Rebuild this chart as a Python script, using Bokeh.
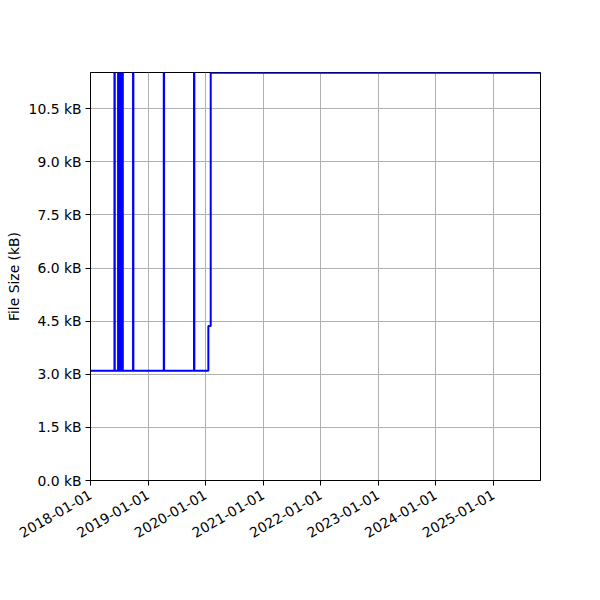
import math
from datetime import datetime
from bokeh.plotting import figure
from bokeh.models import Range1d, FixedTicker, PrintfTickFormatter, DatetimeTickFormatter
from bokeh.embed import file_html
from bokeh.resources import INLINE

# ---- data ----
change_dates = [
    "2018-01-01", "2018-06-02", "2018-06-04", "2018-06-25", "2018-06-27",
    "2018-06-29", "2018-07-01", "2018-07-03", "2018-07-05", "2018-07-07",
    "2018-07-09", "2018-07-11", "2018-07-13", "2018-07-15", "2018-07-17",
    "2018-07-19", "2018-07-21", "2018-07-23", "2018-07-25", "2018-09-28",
    "2018-09-30", "2019-04-11", "2019-04-13", "2019-10-20", "2019-10-22",
    "2020-01-19", "2020-02-03", "2025-10-27",
]
file_size_kb = [
    3.10, 14.0, 3.10, 14.0, 3.10,
    14.0, 3.10, 14.0, 3.10, 14.0,
    3.10, 14.0, 3.10, 14.0, 3.10,
    14.0, 3.10, 14.0, 3.10, 14.0,
    3.10, 14.0, 3.10, 14.0, 3.10,
    4.36, 11.51, 11.51,
]
x_tick_labels = ["2018-01-01", "2019-01-01", "2020-01-01", "2021-01-01",
                 "2022-01-01", "2023-01-01", "2024-01-01", "2025-01-01"]
y_ticks = [0.0, 1.5, 3.0, 4.5, 6.0, 7.5, 9.0, 10.5]
x_start, x_end = "2018-01-01", "2025-10-27"
y_start, y_end = 0.0, 11.52

def to_dt(s):
    return datetime.strptime(s, "%Y-%m-%d")

def to_ms(s):
    return (to_dt(s) - datetime(1970, 1, 1)).total_seconds() * 1000.0

FONT = "DejaVu Sans"

p = figure(width=592, height=592, x_axis_type="datetime",
           output_backend="svg", toolbar_location=None,
           x_range=Range1d(to_dt(x_start), to_dt(x_end)),
           y_range=Range1d(y_start, y_end),
           min_border_left=90, min_border_right=52,
           min_border_top=72, min_border_bottom=112)
p.background_fill_color = "white"
p.border_fill_color = "white"
p.outline_line_color = "black"
p.outline_line_width = 1

p.step([to_dt(d) for d in change_dates], file_size_kb, mode="after",
       line_color="#0000ff", line_width=2)

# axes
p.xaxis.ticker = FixedTicker(ticks=[to_ms(t) for t in x_tick_labels])
p.xaxis.formatter = DatetimeTickFormatter(
    years="%Y-%m-%d", months="%Y-%m-%d", days="%Y-%m-%d",
    hours="%Y-%m-%d", minutes="%Y-%m-%d", seconds="%Y-%m-%d",
    milliseconds="%Y-%m-%d", minsec="%Y-%m-%d", hourmin="%Y-%m-%d")
p.xaxis.major_label_orientation = math.pi / 6
p.yaxis.ticker = FixedTicker(ticks=y_ticks)
p.yaxis.formatter = PrintfTickFormatter(format="%.1f kB")
p.yaxis.axis_label = "File Size (kB)"
p.yaxis.axis_label_text_font_style = "normal"
p.yaxis.axis_label_text_font = FONT
p.yaxis.axis_label_text_font_size = "13.9px"
p.yaxis.axis_label_text_color = "black"
p.yaxis.axis_label_standoff = 4

for ax in (p.xaxis, p.yaxis):
    ax.axis_line_color = "black"
    ax.major_tick_line_color = "black"
    ax.major_tick_out = 5
    ax.major_tick_in = 0
    ax.minor_tick_line_color = None
    ax.major_label_text_font = FONT
    ax.major_label_text_font_size = "13.9px"
    ax.major_label_text_color = "black"
    ax.major_label_standoff = 4
p.xaxis.major_label_standoff = 8

p.grid.grid_line_color = "#b0b0b0"
p.grid.grid_line_width = 1

open("out.html", "w").write(file_html(p, INLINE))
